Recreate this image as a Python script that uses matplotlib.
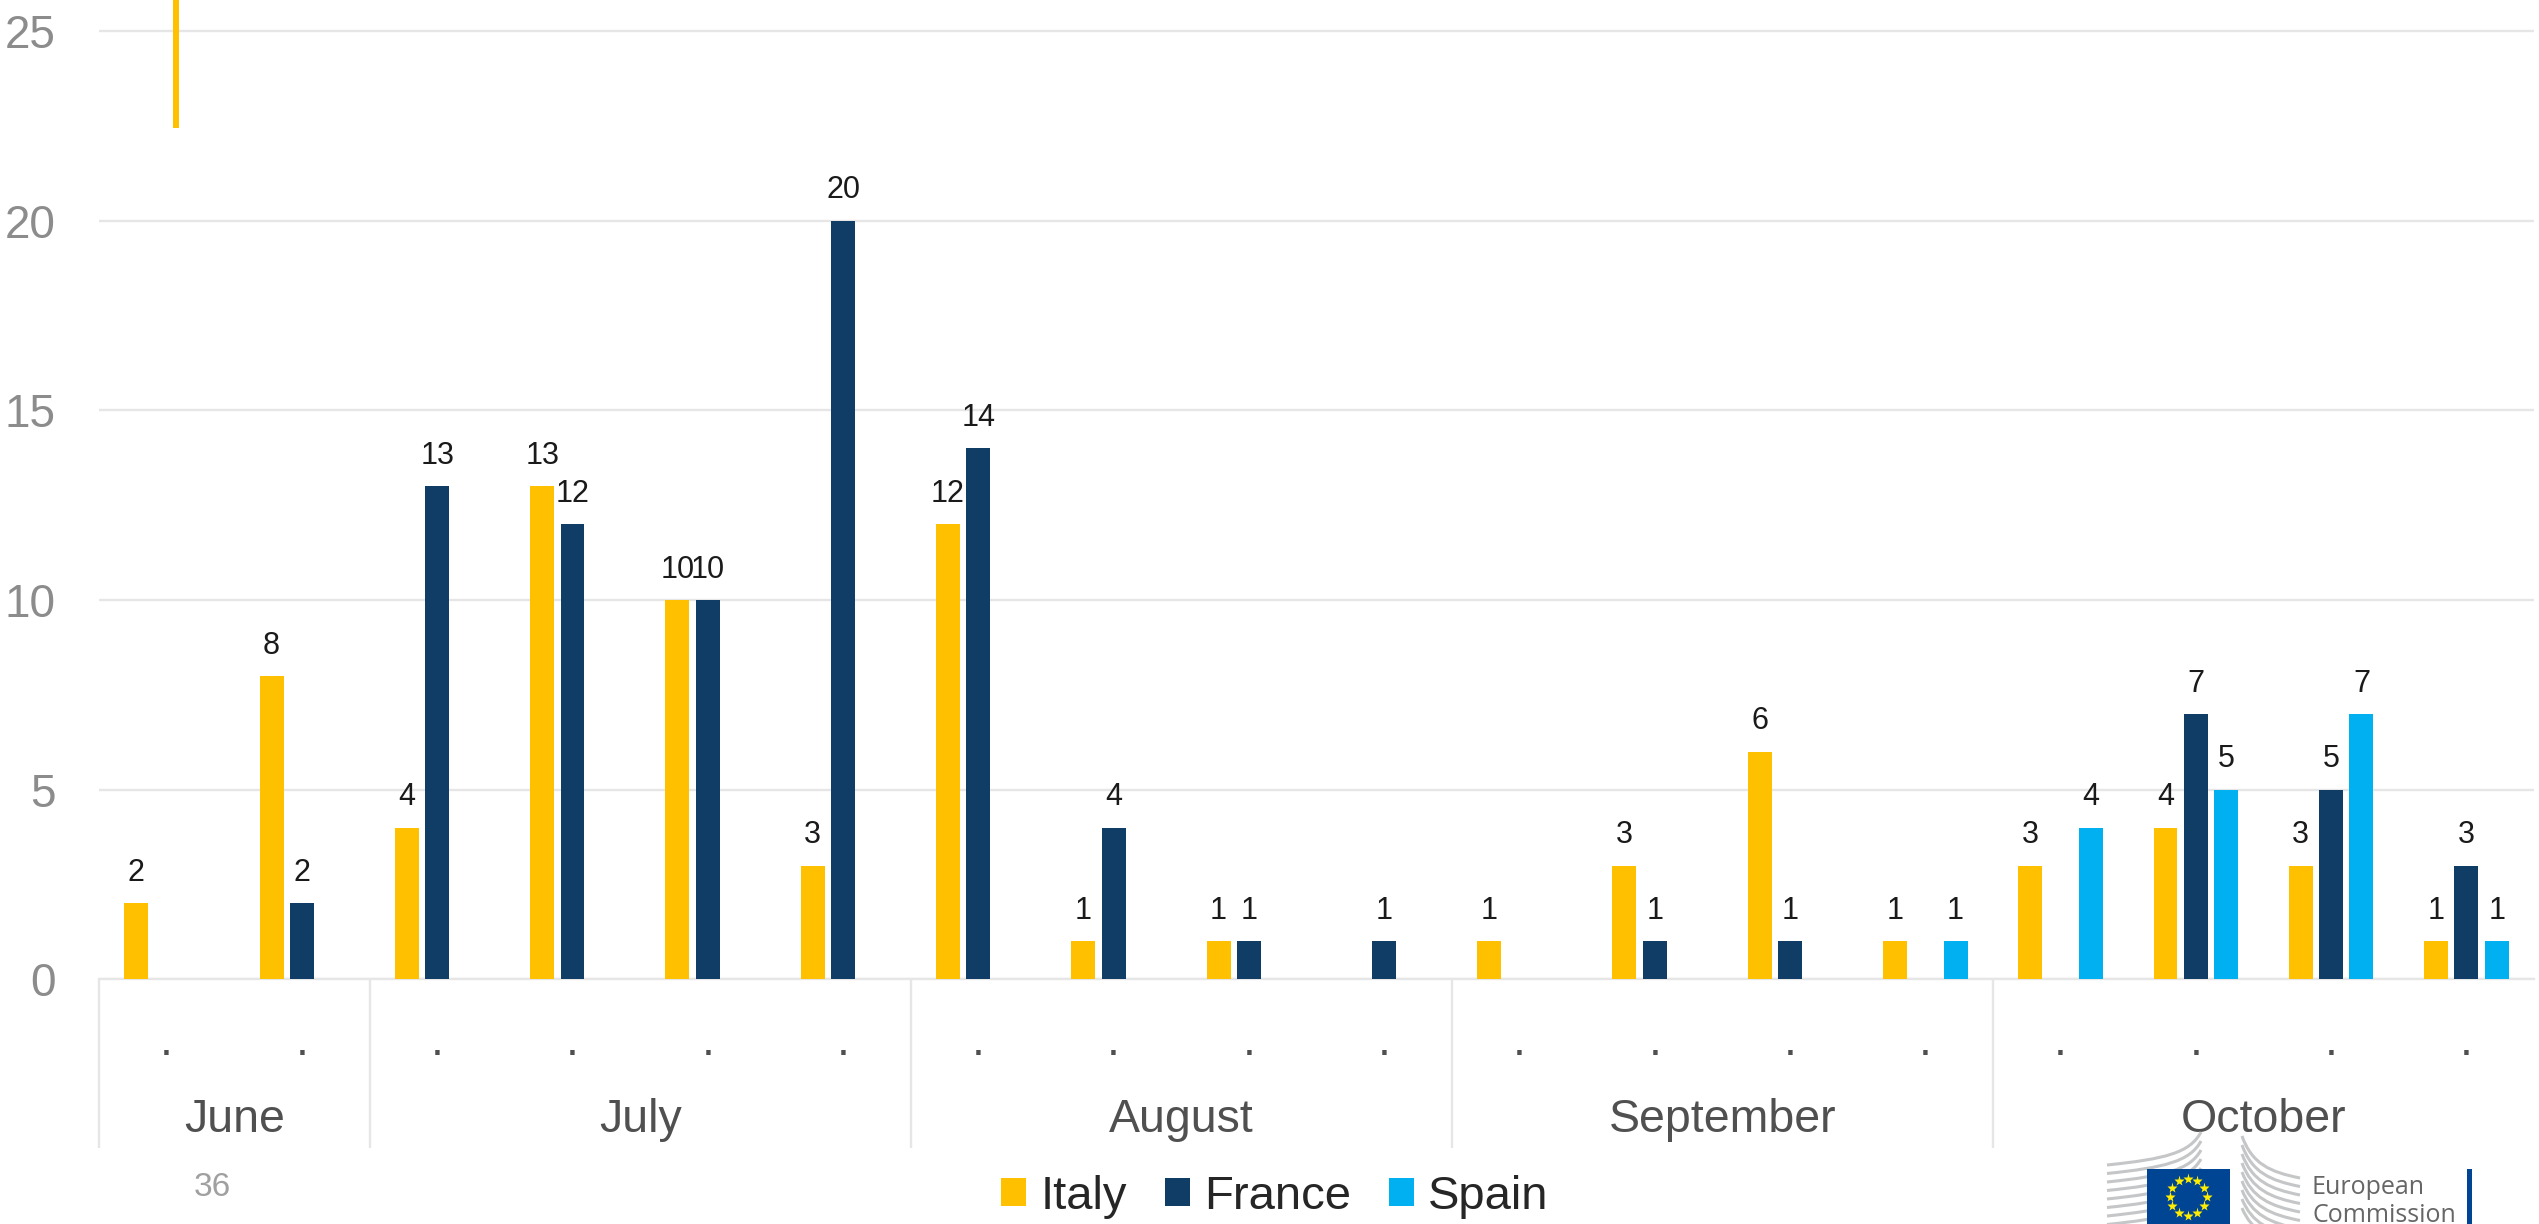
import matplotlib
matplotlib.use('Agg')
import matplotlib.pyplot as plt
import numpy as np
from matplotlib.patches import Rectangle
from matplotlib.path import Path
from matplotlib.patches import PathPatch

plt.rcParams['font.family'] = ['Liberation Sans', 'DejaVu Sans']

# Data, one slot per "." tick, None = no bar
months = ['June', 'July', 'August', 'September', 'October']
month_sizes = [2, 4, 4, 4, 4]
italy = [2, 8, 4, 13, 10, 3, 12, 1, 1, None, 1, 3, 6, 1, 3, 4, 3, 1]
france = [None, 2, 13, 12, 10, 20, 14, 4, 1, 1, None, 1, 1, None, None, 7, 5, 3]
spain = [None, None, None, None, None, None, None, None, None, None, None, None, None, 1, 4, 5, 7, 1]
tick_labels = ['.'] * 18
y_ticks = [0, 5, 10, 15, 20, 25]
series = [('Italy', italy, '#FFC000'), ('France', france, '#0F3D66'), ('Spain', spain, '#00B0F0')]

W, H = 2539, 1224
fig = plt.figure(figsize=(W / 100, H / 100), dpi=100)

# plot area, in pixels of the picture
left, right, base = 99, 2534, 979.3
ax = fig.add_axes([left / W, 1 - base / H, (right - left) / W, base / H])
px = 37.93
ax.set_xlim(0, 18)
ax.set_ylim(0, base / px)

# bars
width = 0.177
step = 0.224
handles = []
for k, (name, vals, col) in enumerate(series):
    xs = [i + 0.5 + (k - 1) * step for i, v in enumerate(vals) if v is not None]
    ys = [v for v in vals if v is not None]
    b = ax.bar(xs, ys, width, color=col, zorder=3, label=name)
    handles.append(b)
    for x, y in zip(xs, ys):
        ax.annotate(str(y), (x, y), xytext=(0, 11), textcoords='offset points',
                    ha='center', va='bottom', fontsize=22, color='#1a1a1a', zorder=4)

# grid and axes
ax.set_yticks(y_ticks)
ax.grid(axis='y', color='#E6E6E6', lw=1.7, zorder=0)
ax.set_axisbelow(True)
for s in ['top', 'right', 'left']:
    ax.spines[s].set_visible(False)
ax.spines['bottom'].set_color('#E6E6E6')
ax.spines['bottom'].set_linewidth(1.7)
ax.tick_params(axis='y', length=0, labelsize=33, labelcolor='#8C8C8C', pad=31)
ax.set_xticks(np.arange(18) + 0.5)
ax.set_xticklabels(tick_labels, fontsize=33, color='#505050')
ax.tick_params(axis='x', length=0, pad=30)

# month brackets below the axis
sep_bottom = -(1148 - base) / px
month_y = -(1120 - base) / px
edges = np.cumsum([0] + month_sizes)
ax.vlines(edges[:-1], sep_bottom, 0, color='#E6E6E6', lw=1.7, clip_on=False)
for m, a, b in zip(months, edges[:-1], edges[1:]):
    ax.text((a + b) / 2, month_y, m, ha='center', va='center', fontsize=33.5,
            color='#505050', clip_on=False)

# legend
fig.legend(handles=handles, loc='center', bbox_to_anchor=(1275 / W, 1 - 1197 / H), ncol=3,
           frameon=False, fontsize=34, labelcolor='#262626', handlelength=0.53, handleheight=0.53,
           handletextpad=0.3, columnspacing=0.8, borderpad=0)

# overlay in picture pixels: stray line, page number, logo
ov = fig.add_axes([0, 0, 1, 1], zorder=5)
ov.set_xlim(0, W)
ov.set_ylim(H, 0)
ov.axis('off')
ov.add_patch(Rectangle((173, 0), 6, 128, color='#FFC000', lw=0))
ov.text(212, 1187, '36', ha='center', va='center', fontsize=24, color='#A0A0A0')

# logo waves
for i in range(9):
    y0 = 1161 + i * 8.5
    p = Path([(2107, y0 + 4), (2165, y0 - 2), (2190, y0 - 8), (2201, 1132 + i * 9)],
             [Path.MOVETO, Path.CURVE4, Path.CURVE4, Path.CURVE4])
    ov.add_patch(PathPatch(p, fc='none', ec='#C4C6C8', lw=2.2, clip_on=True))
    y1 = 1176 + i * 8.5
    p = Path([(2242, 1136 + i * 9), (2252, y1 - 12), (2270, y1 - 4), (2300, y1 + 2)],
             [Path.MOVETO, Path.CURVE4, Path.CURVE4, Path.CURVE4])
    ov.add_patch(PathPatch(p, fc='none', ec='#C4C6C8', lw=2.2, clip_on=True))
ov.add_patch(Rectangle((2147, 1169), 83, 60, color='#004494', lw=0, zorder=3))
ang = np.deg2rad(np.arange(0, 360, 30))
ov.plot(2188 + 18.5 * np.cos(ang), 1197 + 18.5 * np.sin(ang), ls='none', marker='*', ms=8,
        mfc='#FFED00', mec='none', zorder=4)
ov.add_patch(Rectangle((2467, 1169), 4.5, 60, color='#004494', lw=0))
ov.text(2312, 1187, 'European', ha='left', va='center', fontsize=18, color='#666666', family='Open Sans')
ov.text(2312, 1215, 'Commission', ha='left', va='center', fontsize=18, color='#666666', family='Open Sans')

fig.savefig('out.png', dpi=100)
